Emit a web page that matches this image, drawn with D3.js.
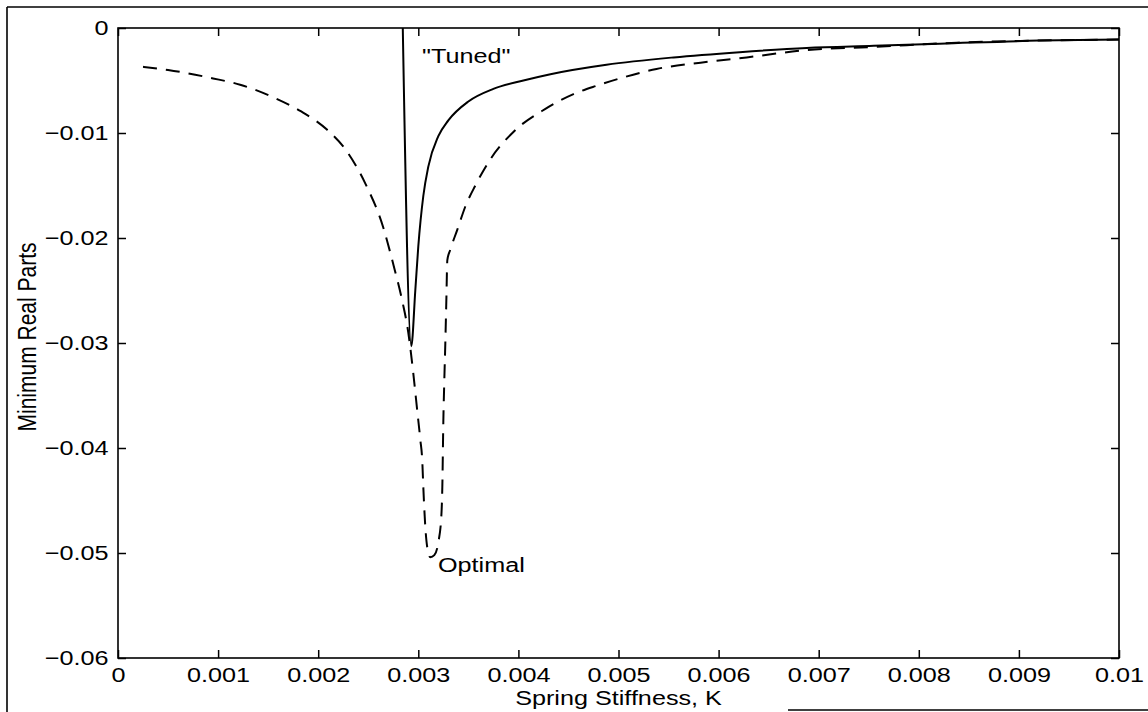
<!DOCTYPE html>
<html>
<head>
<meta charset="utf-8">
<script src="https://cdn.jsdelivr.net/npm/d3@7"></script>
<style>
  html, body { margin: 0; padding: 0; background: #fff; }
  svg { display: block; }
  text { font-family: "Liberation Sans", Arial, Helvetica, sans-serif; fill: #000; }
</style>
</head>
<body>
<svg id="chart" width="1148" height="712"></svg>
<script>
// Spring stiffness K (x) and minimum real part of the eigenvalues (y)
const optimalK = [0.00025, 0.0005, 0.00095, 0.00122, 0.00155, 0.00182, 0.00209, 0.00229,
  0.00247, 0.00265, 0.00275, 0.00284, 0.0029, 0.00295, 0.00299, 0.00302, 0.00304, 0.00305,
  0.00307, 0.00309, 0.00312, 0.00316, 0.0032, 0.00323, 0.00324, 0.00325, 0.00326, 0.00327,
  0.00328, 0.00329, 0.00332, 0.00339, 0.00347, 0.00357, 0.00372, 0.00395, 0.00427, 0.00455,
  0.00478, 0.00505, 0.00538, 0.00582, 0.00628, 0.00688, 0.00755, 0.00838, 0.0092, 0.01];
const optimalRe = [-0.0037, -0.0040, -0.0048, -0.0054, -0.0066, -0.0079, -0.0097, -0.0118,
  -0.0148, -0.0190, -0.0225, -0.0260, -0.0290, -0.0329, -0.0365, -0.0392, -0.0413, -0.0437,
  -0.0475, -0.0495, -0.0504, -0.0502, -0.0490, -0.0465, -0.0437, -0.0375, -0.0335, -0.0300,
  -0.0260, -0.0221, -0.0211, -0.0192, -0.0170, -0.0150, -0.0125, -0.0099, -0.0077, -0.0063,
  -0.0055, -0.0047, -0.0039, -0.0033, -0.0028, -0.0021, -0.0018, -0.0014, -0.0012, -0.0011];

const tunedK = [0.002845, 0.00293, 0.00297, 0.0030, 0.00305, 0.0031, 0.0032, 0.0033,
  0.0035, 0.00375, 0.00405, 0.00432, 0.00488, 0.00555, 0.00621, 0.00688, 0.00755,
  0.00821, 0.0092, 0.01];
const tunedRe = [0, -0.0303, -0.0250, -0.0208, -0.0160, -0.0132, -0.0103, -0.0088,
  -0.0070, -0.0058, -0.0050, -0.0044, -0.0035, -0.0028, -0.0023, -0.0019, -0.0017,
  -0.0015, -0.0012, -0.0011];

const xTicks = [0, 0.001, 0.002, 0.003, 0.004, 0.005, 0.006, 0.007, 0.008, 0.009, 0.01];
const yTicks = [0, -0.01, -0.02, -0.03, -0.04, -0.05, -0.06];

const xLabel = "Spring Stiffness, K";
const yLabel = "Minimum Real Parts";
const tunedLabel = "\"Tuned\"";
const optimalLabel = "Optimal";

const svg = d3.select("#chart");
const pLeft = 118, pRight = 1119, pTop = 28, pBottom = 658;
const stretch = 1.2;

const x = d3.scaleLinear().domain([0, 0.01]).range([pLeft, pRight]);
const y = d3.scaleLinear().domain([-0.06, 0]).range([pBottom, pTop]);

// outer page frame
const frame = svg.append("g").attr("stroke", "#000").attr("stroke-width", 1.6).attr("fill", "none");
frame.append("line").attr("x1", 7).attr("y1", 7).attr("x2", 1148).attr("y2", 7);
frame.append("line").attr("x1", 7).attr("y1", 7).attr("x2", 7).attr("y2", 712);
frame.append("line").attr("x1", 788).attr("y1", 710).attr("x2", 1148).attr("y2", 710);

const fmtX = d => d === 0 ? "0" : d3.format(".3~f")(d);
const fmtY = d => d === 0 ? "0" : d3.format(".2f")(d);

function styleAxis(g, labels) {
  g.select(".domain").remove();
  g.selectAll(".tick line").attr("stroke", "#000").attr("stroke-width", 1.5);
  if (labels) {
    g.selectAll(".tick text").attr("font-size", 21)
      .attr("transform", `scale(${stretch},1)`);
  } else {
    g.selectAll(".tick text").remove();
  }
}

svg.append("g").attr("transform", `translate(0,${pBottom})`)
  .call(d3.axisBottom(x).tickValues(xTicks).tickFormat(fmtX).tickSizeInner(-8).tickSizeOuter(0).tickPadding(9))
  .call(g => styleAxis(g, true));
svg.append("g").attr("transform", `translate(0,${pTop})`)
  .call(d3.axisTop(x).tickValues(xTicks).tickSizeInner(-8).tickSizeOuter(0))
  .call(g => styleAxis(g, false));
svg.append("g").attr("transform", `translate(${pLeft},0)`)
  .call(d3.axisLeft(y).tickValues(yTicks).tickFormat(fmtY).tickSizeInner(-8).tickSizeOuter(0).tickPadding(8))
  .call(g => styleAxis(g, true));
svg.append("g").attr("transform", `translate(${pRight},0)`)
  .call(d3.axisRight(y).tickValues(yTicks).tickSizeInner(-8).tickSizeOuter(0))
  .call(g => styleAxis(g, false));

// plot box
svg.append("rect").attr("x", pLeft).attr("y", pTop)
  .attr("width", pRight - pLeft).attr("height", pBottom - pTop)
  .attr("fill", "none").attr("stroke", "#000").attr("stroke-width", 1.6);

const line = d3.line().x(d => x(d[0])).y(d => y(d[1])).curve(d3.curveMonotoneX);

svg.append("path")
  .datum(optimalK.map((k, i) => [k, optimalRe[i]]))
  .attr("d", line).attr("fill", "none").attr("stroke", "#000")
  .attr("stroke-width", 2).attr("stroke-dasharray", "14,9");

svg.append("path")
  .datum(tunedK.map((k, i) => [k, tunedRe[i]]))
  .attr("d", line).attr("fill", "none").attr("stroke", "#000")
  .attr("stroke-width", 2);

// annotations
svg.append("text").attr("font-size", 21)
  .attr("transform", `translate(422,63) scale(${stretch},1)`).text(tunedLabel);
svg.append("text").attr("font-size", 21)
  .attr("transform", `translate(438,572) scale(${stretch},1)`).text(optimalLabel);

// axis titles
svg.append("text").attr("font-size", 20).attr("text-anchor", "middle")
  .attr("transform", `translate(${(pLeft + pRight) / 2},705) scale(1.26,1)`).text(xLabel);
svg.append("text").attr("font-size", 21).attr("text-anchor", "middle")
  .attr("transform", `translate(36,337) rotate(-90) scale(1,${stretch})`).text(yLabel);
</script>
</body>
</html>
